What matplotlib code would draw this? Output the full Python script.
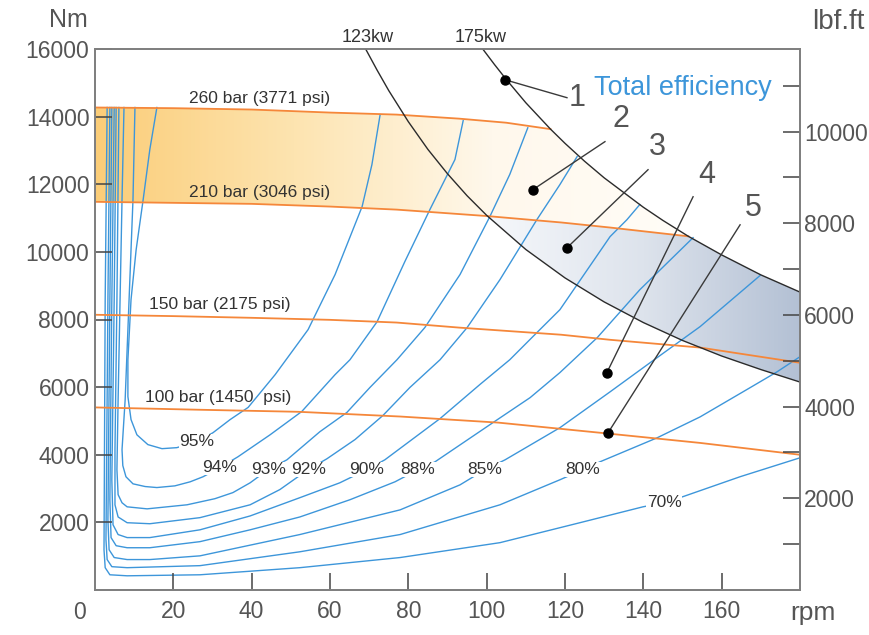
import matplotlib
matplotlib.use("Agg")
import matplotlib.pyplot as plt
import numpy as np
from matplotlib.colors import LinearSegmentedColormap
from matplotlib.patches import Polygon
from matplotlib.transforms import blended_transform_factory

plt.rcParams["font.family"] = ["Liberation Sans", "DejaVu Sans"]

# Pressure lines (rpm, Nm)
p260_rpm = [0, 20, 40, 60, 77, 93, 105, 116.3]
p260_nm = [14270, 14250, 14210, 14120, 14060, 13940, 13820, 13630]
p210_rpm = [0, 20, 40, 60, 77, 100, 119, 131.5, 151.5]
p210_nm = [11480, 11450, 11420, 11340, 11250, 11060, 10870, 10720, 10460]
p150_rpm = [0, 20, 40, 60, 77, 93, 119, 131.5, 154.5, 180]
p150_nm = [8140, 8100, 8050, 7990, 7910, 7760, 7550, 7400, 7170, 6720]
p100_rpm = [0, 27, 52, 78, 103, 129, 154.5, 180]
p100_nm = [5400, 5330, 5270, 5130, 4950, 4650, 4350, 4000]
pressure_labels = ["260 bar (3771 psi)", "210 bar (3046 psi)", "150 bar (2175 psi)", "100 bar (1450  psi)"]
pressure_label_rpm = [41.9, 41.9, 31.9, 31.4]
pressure_label_nm = [14530, 11750, 8440, 5690]

# Constant power curves
kw123_rpm = [69.1, 72, 75, 80, 85, 90, 95, 100, 110, 120, 130, 140, 150, 160, 170, 180]
kw123_nm = [16000, 15380, 14770, 13850, 13030, 12310, 11660, 11080, 10070, 9230, 8520, 7910, 7380, 6920, 6520, 6150]
kw175_rpm = [99, 102, 105, 110, 116.3, 120, 125, 130, 140, 145, 151.5, 160, 170, 180]
kw175_nm = [16000, 15540, 15100, 14410, 13630, 13210, 12680, 12190, 11320, 10930, 10460, 9910, 9320, 8810]

# Efficiency contours (rpm, Nm)
e95_rpm = [15.8, 14.0, 12.3, 10.5, 9.2, 8.4, 8.4, 9.2, 10.7, 13.5, 17.1, 20.9, 26.0, 30.1, 34.5, 39.1, 46.0, 54.4, 61.3, 68.2, 70.7, 72.8]
e95_nm = [14270, 13030, 11550, 10060, 8590, 6810, 5720, 5040, 4590, 4300, 4180, 4210, 4390, 4650, 5040, 5400, 6370, 7700, 9330, 11340, 12580, 14060]
e94_rpm = [10.2, 9.7, 8.7, 7.7, 6.9, 7.1, 7.9, 9.7, 12.8, 15.8, 20.4, 24.3, 27.6, 31.9, 36.5, 44.7, 52.8, 61.3, 65.1, 72.0, 79.1, 85.5, 91.9, 94.0]
e94_nm = [14270, 11550, 8590, 5630, 4150, 3680, 3350, 3140, 3060, 3030, 3080, 3200, 3350, 3620, 3940, 4590, 5280, 6370, 6810, 7930, 9710, 11250, 12730, 13880]
e93_rpm = [7.4, 6.9, 6.4, 5.9, 5.6, 5.9, 6.9, 8.2, 13.3, 23.5, 30.6, 35.2, 39.6, 44.2, 49.0, 57.4, 64.3, 70.2, 77.1, 84.2, 93.2, 100.8, 105.9, 110.5]
e93_nm = [14270, 11550, 8590, 5630, 3560, 2820, 2580, 2460, 2400, 2520, 2700, 2880, 3170, 3560, 3850, 4680, 5250, 5990, 6810, 7760, 9330, 11040, 12290, 13670]
e92_rpm = [6.1, 5.6, 5.1, 5.1, 5.9, 8.2, 14.0, 26.8, 39.6, 47.2, 54.4, 59.2, 66.4, 73.5, 80.4, 88.1, 95.0, 103.4, 112.8, 118.7, 123.1]
e92_nm = [14270, 8590, 4150, 2520, 2160, 1990, 1960, 2140, 2520, 2970, 3560, 3880, 4450, 5160, 5990, 6810, 7760, 9180, 10950, 11990, 12820]
e90_rpm = [5.4, 4.9, 4.3, 4.6, 5.9, 8.2, 14.0, 26.8, 39.6, 52.3, 62.5, 69.4, 74.0, 88.1, 98.3, 105.9, 112.8, 118.7, 131.5, 135.8, 139.1]
e90_nm = [14270, 8590, 3260, 1930, 1640, 1550, 1550, 1780, 2190, 2730, 3170, 3560, 3850, 5070, 6080, 6810, 7610, 8290, 10450, 10950, 11400]
e88_rpm = [4.9, 4.3, 3.8, 4.1, 5.4, 8.2, 14.0, 26.8, 39.6, 52.3, 65.1, 76.6, 82.5, 86.8, 101.6, 111.1, 118.7, 128.2, 139.1, 152.7]
e88_nm = [14270, 8590, 2670, 1550, 1310, 1250, 1250, 1430, 1780, 2160, 2670, 3200, 3560, 3790, 4950, 5690, 6430, 7460, 8880, 10420]
e85_rpm = [4.3, 3.8, 3.3, 3.6, 4.9, 8.2, 14.0, 26.8, 52.3, 77.9, 93.2, 99.6, 104.7, 118.7, 131.5, 141.7, 154.5, 169.8]
e85_nm = [14270, 8590, 2080, 1190, 960, 900, 900, 1010, 1640, 2370, 3110, 3560, 3850, 4800, 5860, 6720, 7790, 9300]
e80_rpm = [3.8, 3.3, 2.8, 3.1, 4.3, 8.2, 26.8, 52.3, 77.9, 103.4, 118.7, 124.6, 128.9, 143.5, 154.5, 167.2, 174.1, 180]
e80_nm = [14270, 8590, 1490, 900, 690, 660, 720, 1130, 1640, 2520, 3260, 3560, 3790, 4500, 5120, 5980, 6450, 6900]
e70_rpm = [3.1, 2.6, 2.3, 2.6, 3.8, 8.2, 26.8, 52.3, 77.9, 103.4, 123.8, 139.9, 145.3, 150.1, 164.7, 180]
e70_nm = [14270, 8590, 1190, 660, 450, 420, 450, 660, 960, 1400, 1990, 2460, 2580, 2760, 3350, 3910]
eff_labels = ["95%", "94%", "93%", "92%", "90%", "88%", "85%", "80%", "70%"]
eff_label_rpm = [26.0, 31.9, 44.2, 54.4, 69.4, 82.5, 99.6, 124.6, 145.3]
eff_label_nm = [4390, 3620, 3560, 3560, 3560, 3560, 3560, 3560, 2580]

# Numbered callouts
call_txt = ["1", "2", "3", "4", "5"]
call_dot_rpm = [104.7, 111.8, 120.5, 130.7, 131.0]
call_dot_nm = [15090, 11840, 10120, 6430, 4650]
call_end_rpm = [120.5, 130.2, 141.2, 152.7, 164.7]
call_end_nm = [14560, 13260, 12430, 11630, 10800]
call_txt_rpm = [123.2, 134.3, 143.5, 156.2, 168.0]
call_txt_nm = [14550, 13940, 13100, 12260, 11300]

x_ticks = [20, 40, 60, 80, 100, 120, 140, 160]
y_ticks = [2000, 4000, 6000, 8000, 10000, 12000, 14000, 16000]
lbf_ticks = [1000, 2000, 3000, 4000, 5000, 6000, 7000, 8000, 9000, 10000, 11000]

BLUE = "#3d96da"
ORANGE = "#f5873a"
INK = "#333333"
GREY = "#555555"

fig = plt.figure(figsize=(8.7, 6.35), dpi=100)
ax = fig.add_axes([95 / 870, 45 / 635, 705 / 870, 541 / 635])

# Shaded bands with horizontal gradients
orange_pts = (list(zip(p260_rpm, p260_nm))
              + [(r, t) for r, t in zip(kw175_rpm, kw175_nm) if p260_rpm[-1] < r < p210_rpm[-1]]
              + list(zip(p210_rpm, p210_nm))[::-1])
blue_pts = ([(r, t) for r, t in zip(p210_rpm, p210_nm) if r >= 100]
            + [(r, t) for r, t in zip(kw175_rpm, kw175_nm) if r > p210_rpm[-1]]
            + [(r, t) for r, t in zip(kw123_rpm, kw123_nm) if r >= 100][::-1])

grad = np.linspace(0, 1, 256)[None, :]
orange_cmap = LinearSegmentedColormap.from_list("o", ["#fbcd78", "#fde4b0", "#fff8ec", "#fffdf8"])
blue_cmap = LinearSegmentedColormap.from_list("b", ["#f6f8fb", "#dde3ec", "#b3c0d4"])

opoly = Polygon(orange_pts, closed=True, fc="none", ec="none", transform=ax.transData)
ax.add_patch(opoly)
im = ax.imshow(grad, extent=[0, 152, 10400, 14300], cmap=orange_cmap, aspect="auto", zorder=0.5)
im.set_clip_path(opoly)

bpoly = Polygon(blue_pts, closed=True, fc="none", ec="none", transform=ax.transData)
ax.add_patch(bpoly)
im2 = ax.imshow(grad, extent=[100, 180, 6100, 11100], cmap=blue_cmap, aspect="auto", zorder=0.5)
im2.set_clip_path(bpoly)

# Efficiency contours
eff_curves = [(e95_rpm, e95_nm), (e94_rpm, e94_nm), (e93_rpm, e93_nm), (e92_rpm, e92_nm),
              (e90_rpm, e90_nm), (e88_rpm, e88_nm), (e85_rpm, e85_nm), (e80_rpm, e80_nm), (e70_rpm, e70_nm)]
for xs, ys in eff_curves:
    ax.plot(xs, ys, color=BLUE, lw=1.0, zorder=1)
for lab, x, y in zip(eff_labels, eff_label_rpm, eff_label_nm):
    ax.text(x, y, lab, fontsize=12.5, color=INK, ha="center", va="center", zorder=4,
            bbox=dict(fc="white", ec="none", pad=0.3))

# Pressure lines
for xs, ys in [(p260_rpm, p260_nm), (p210_rpm, p210_nm), (p150_rpm, p150_nm), (p100_rpm, p100_nm)]:
    ax.plot(xs, ys, color=ORANGE, lw=1.3, zorder=2)
for lab, x, y in zip(pressure_labels, pressure_label_rpm, pressure_label_nm):
    ax.text(x, y, lab, fontsize=12.5, color=INK, ha="center", va="center", zorder=4)

# Power curves
ax.plot(kw123_rpm, kw123_nm, color="#2b2b2b", lw=1.0, zorder=3)
ax.plot(kw175_rpm, kw175_nm, color="#2b2b2b", lw=1.0, zorder=3)
top = blended_transform_factory(ax.transData, ax.transAxes)
ax.text(kw123_rpm[0] + 0.5, 1.006, "123kw", transform=top, fontsize=13, color=INK, ha="center", va="bottom")
ax.text(kw175_rpm[0] - 0.5, 1.006, "175kw", transform=top, fontsize=13, color=INK, ha="center", va="bottom")

# Callouts
for i in range(len(call_txt)):
    ax.plot([call_dot_rpm[i], call_end_rpm[i]], [call_dot_nm[i], call_end_nm[i]], color="#3a3a3a", lw=1.0, zorder=5)
    ax.plot(call_dot_rpm[i], call_dot_nm[i], "o", color="black", ms=6.5, zorder=6)
    ax.text(call_txt_rpm[i], call_txt_nm[i], call_txt[i], fontsize=22, color=GREY, ha="center", va="center", zorder=6)
ax.text(150.1, 14650, "Total efficiency", fontsize=19.5, color=BLUE, ha="center", va="baseline", zorder=6)

# Axes styling
ax.set_xlim(0, 180)
ax.set_ylim(0, 16000)
ax.set_xticks(x_ticks)
ax.set_yticks(y_ticks)
ax.tick_params(direction="in", length=12, width=1.1, color="#444444", labelsize=16.5, labelcolor=GREY, pad=4)
ax.tick_params(axis="x", pad=7)
for s in ax.spines.values():
    s.set_color("#7f7f7f")
    s.set_linewidth(1.3)

ax2 = ax.twinx()
ax2.set_ylim(0, 16000 / 1.355818)
ax2.set_yticks(lbf_ticks)
ax2.set_yticklabels([str(v) if v % 2000 == 0 else "" for v in lbf_ticks])
ax2.tick_params(direction="in", length=12, width=1.1, color="#444444", labelsize=16.5, labelcolor=GREY, pad=3)
for s in ax2.spines.values():
    s.set_color("#7f7f7f")
    s.set_linewidth(1.3)

bottom = blended_transform_factory(ax.transData, ax.transAxes)
ax.text(-4, -0.042, "0", transform=bottom, fontsize=16.5, color=GREY, ha="center", va="center")
ax.text(183.3, -0.042, "rpm", transform=bottom, fontsize=19, color=GREY, ha="center", va="center")
fig.text(68 / 870, 1 - 20 / 635, "Nm", fontsize=18, color=GREY, ha="center", va="center")
fig.text(838 / 870, 1 - 22 / 635, "lbf.ft", fontsize=20, color=GREY, ha="center", va="center")

fig.savefig("out.png", dpi=100)
